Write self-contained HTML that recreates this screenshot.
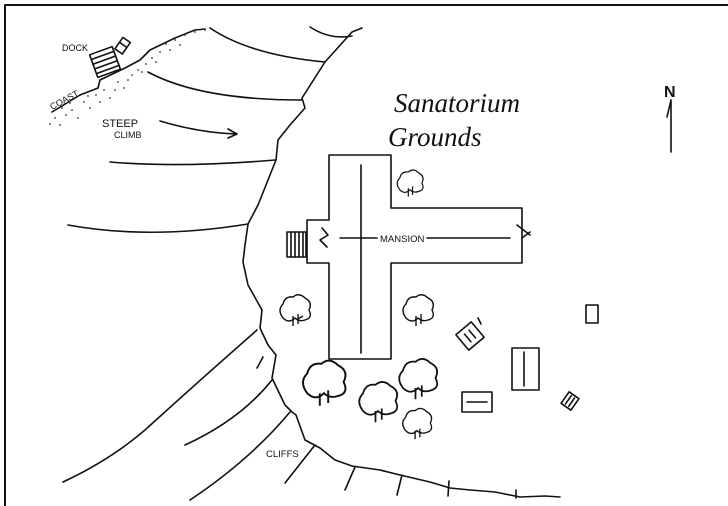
<!DOCTYPE html>
<html><head><meta charset="utf-8"><style>
html,body{margin:0;padding:0;background:#fff;}
svg{display:block}
text{font-family:"Liberation Sans",sans-serif;fill:#111}
</style></head><body>
<svg width="728" height="506" viewBox="0 0 728 506" xmlns="http://www.w3.org/2000/svg">
<g fill="none" stroke="#111" stroke-width="1.6" stroke-linecap="round" stroke-linejoin="round">
<!-- frame -->
<path d="M5 5 H728 M5 5 V506" stroke-width="2"/>
<!-- main coast / ridge -->
<path d="M362 28 L352 32 L325 62 L302 98 L305 108 L290 125 L278 140 L276 160 L268 180 L258 205 L248 224 L245 245 L243 262 L248 285 L262 310 L260 328 L268 345 L276 355 L272 378 L285 405 L292 412 L296 415 L305 440 L320 448 L335 460 L352 466 L380 470 L400 475 L430 482 L450 488 L470 490 L495 492 L520 497 L545 496 L560 497"/>
<!-- contour lines top-left -->
<path d="M210 28 Q250 55 325 62"/>
<path d="M148 72 Q200 100 302 100"/>
<path d="M110 162 Q180 168 275 160"/>
<path d="M68 225 Q150 240 248 224"/>
<path d="M310 27 Q330 40 352 36"/>
<!-- cliffs -->
<path d="M257 330 Q200 380 145 430 Q110 460 63 482"/>
<path d="M272 380 Q240 420 185 445"/>
<path d="M290 412 Q250 460 190 500"/>
<path d="M263 357 L257 368"/>
<path d="M315 445 L285 483"/>
<path d="M355 467 L345 490"/>
<path d="M402 475 L397 495"/>
<path d="M449 481 L448 496"/>
<path d="M516 490 L516 498"/>
<!-- shore line -->
<path d="M52 112 L80 95 L98 88 L100 80 L125 68 L140 60 L150 50 L175 38 L195 30 L205 29"/>
<!-- steep climb arrow -->
<path d="M160 121 Q200 133 237 134 M228 129 L237 134 L228 138"/>
<!-- mansion -->
<path d="M329 155 H391 V208 H522 V263 H391 V359 H329 V263 H307 V220 H329 Z"/>
<path d="M361 165 V353"/>
<path d="M340 238 H377 M427 238 H510"/>
<path d="M322 228 L328 235 L320 240 L327 247"/>
<path d="M517 225 L530 235 M522 238 L530 232"/>
<rect x="287" y="232" width="19" height="25"/>
<path d="M291 232 V257 M295 232 V257 M299 232 V257 M303 232 V257"/>
<!-- dock -->
<g transform="rotate(-20 105 62)">
<rect x="93" y="50" width="24" height="24"/>
<path d="M93 55 H117 M93 60 H117 M93 65 H117 M93 70 H117"/>
</g>
<g transform="rotate(35 123 46)">
<rect x="118" y="39" width="9" height="14"/>
<path d="M118 45 H127"/>
</g>
<!-- N arrow -->
<path d="M671 100 V152 M671 100 L667 117"/>
<!-- buildings -->
<g transform="rotate(-40 470 336)"><rect x="460" y="326" width="20" height="20"/><path d="M467 331 V341 M473 331 V341"/></g>
<path d="M478 318 L481 324"/>
<rect x="512" y="348" width="27" height="42"/><path d="M524 352 V386"/>
<rect x="462" y="392" width="30" height="20"/><path d="M467 402 H487"/>
<rect x="586" y="305" width="12" height="18"/>
<g transform="rotate(35 570 401)"><rect x="564" y="394" width="12" height="14"/><path d="M568 396 V406 M572 396 V406"/></g>
</g>
<!-- trees -->
<g fill="#fff" stroke="#111" stroke-width="1.4">
<g transform="translate(295 310)"><path d="M-12 8 Q-18 0 -12 -6 Q-10 -14 -2 -13 Q4 -18 10 -12 Q18 -8 14 0 Q18 8 10 10 Q4 12 0 8 Q-6 14 -12 8 Z"/><path d="M-2 6 V16 M3 4 V14 M3 9 L8 6"/></g>
<g transform="translate(418 310)"><path d="M-12 8 Q-18 0 -12 -6 Q-10 -14 -2 -13 Q4 -18 10 -12 Q18 -8 14 0 Q18 8 10 10 Q4 12 0 8 Q-6 14 -12 8 Z"/><path d="M-2 6 V16 M3 4 V14"/></g>
<g transform="translate(410 183) scale(0.85)"><path d="M-12 8 Q-18 0 -12 -6 Q-10 -14 -2 -13 Q4 -18 10 -12 Q18 -8 14 0 Q18 8 10 10 Q4 12 0 8 Q-6 14 -12 8 Z"/><path d="M-2 6 V16 M3 4 V14"/></g>
<g transform="translate(324 382) scale(1.4)"><path d="M-12 8 Q-18 0 -12 -6 Q-10 -14 -2 -13 Q4 -18 10 -12 Q18 -8 14 0 Q18 8 10 10 Q4 12 0 8 Q-6 14 -12 8 Z"/><path d="M-3 8 V17 M3 6 V15"/></g>
<g transform="translate(378 401) scale(1.25)"><path d="M-12 8 Q-18 0 -12 -6 Q-10 -14 -2 -13 Q4 -18 10 -12 Q18 -8 14 0 Q18 8 10 10 Q4 12 0 8 Q-6 14 -12 8 Z"/><path d="M-2 8 V17 M3 6 V15"/></g>
<g transform="translate(418 378) scale(1.25)"><path d="M-12 8 Q-18 0 -12 -6 Q-10 -14 -2 -13 Q4 -18 10 -12 Q18 -8 14 0 Q18 8 10 10 Q4 12 0 8 Q-6 14 -12 8 Z"/><path d="M-2 8 V17 M3 6 V15"/></g>
<g transform="translate(417 423) scale(0.95)"><path d="M-12 8 Q-18 0 -12 -6 Q-10 -14 -2 -13 Q4 -18 10 -12 Q18 -8 14 0 Q18 8 10 10 Q4 12 0 8 Q-6 14 -12 8 Z"/><path d="M-2 8 V17 M3 6 V15"/></g>
</g>
<!-- stipple -->
<g fill="#333">
<circle cx="55" cy="118" r="0.9"/><circle cx="60" cy="125" r="0.9"/><circle cx="66" cy="115" r="0.9"/><circle cx="72" cy="110" r="0.9"/><circle cx="78" cy="118" r="0.9"/><circle cx="84" cy="102" r="0.9"/><circle cx="90" cy="108" r="0.9"/><circle cx="96" cy="95" r="0.9"/><circle cx="104" cy="90" r="0.9"/><circle cx="110" cy="98" r="0.9"/><circle cx="118" cy="82" r="0.9"/><circle cx="124" cy="88" r="0.9"/><circle cx="132" cy="75" r="0.9"/><circle cx="138" cy="70" r="0.9"/><circle cx="146" cy="64" r="0.9"/><circle cx="152" cy="58" r="0.9"/><circle cx="160" cy="52" r="0.9"/><circle cx="166" cy="44" r="0.9"/><circle cx="175" cy="40" r="0.9"/><circle cx="185" cy="35" r="0.9"/><circle cx="195" cy="32" r="0.9"/><circle cx="205" cy="30" r="0.9"/><circle cx="62" cy="108" r="0.9"/><circle cx="50" cy="124" r="0.9"/><circle cx="70" cy="103" r="0.9"/><circle cx="88" cy="96" r="0.9"/><circle cx="100" cy="102" r="0.9"/><circle cx="115" cy="90" r="0.9"/><circle cx="128" cy="80" r="0.9"/><circle cx="142" cy="72" r="0.9"/><circle cx="156" cy="62" r="0.9"/><circle cx="170" cy="50" r="0.9"/><circle cx="180" cy="45" r="0.9"/>
</g>
<text x="62" y="51" font-size="9">DOCK</text>
<text x="52" y="110" font-size="9" transform="rotate(-28 52 110)">COAST</text>
<text x="102" y="127" font-size="11">STEEP</text>
<text x="114" y="138" font-size="9">CLIMB</text>
<text x="380" y="242" font-size="9.5">MANSION</text>
<text x="266" y="457" font-size="9.5">CLIFFS</text>
<text x="664" y="97" font-size="16" font-weight="bold">N</text>
<text x="394" y="112" font-size="27" font-style="italic" style="font-family:'Liberation Serif',serif">Sanatorium</text>
<text x="388" y="146" font-size="27" font-style="italic" style="font-family:'Liberation Serif',serif">Grounds</text>
</svg>
</body></html>
